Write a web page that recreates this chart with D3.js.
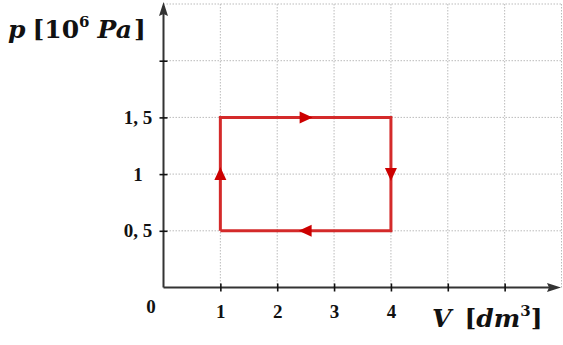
<!DOCTYPE html>
<html>
<head>
<meta charset="utf-8">
<script src="https://cdn.jsdelivr.net/npm/d3@7"></script>
<style>
  body { margin: 0; background: #fff; }
</style>
</head>
<body>
<div id="viz"></div>
<script>
const w = 563;
const h = 345;

// cycle corners (V in dm^3, p in 10^6 Pa), in drawing order
const cycleV = [1, 1, 4, 4, 1];
const cycleP = [0.5, 1.5, 1.5, 0.5, 0.5];

const xTicks = [1, 2, 3, 4, 5, 6];
const xTickLabels = ['1', '2', '3', '4', '', ''];
const yTicks = [0.5, 1, 1.5, 2];
const yTickLabels = ['0, 5', '1', '1, 5', ''];
const xGrid = [1, 2, 3, 4, 5, 6, 7];
const yGrid = [0.5, 1, 1.5, 2, 2.5];

const x = d3.scaleLinear().domain([0, 7]).range([163.5, 561.5]);
const y = d3.scaleLinear().domain([0, 2.5]).range([287.5, 4]);

const svg = d3.select('#viz').append('svg')
    .attr('width', w)
    .attr('height', h)

// grid
svg.append('g').selectAll('line').data(xGrid).join('line')
    .attr('x1', d => x(d)).attr('x2', d => x(d))
    .attr('y1', y(0)).attr('y2', y(2.5))
    .attr('stroke', '#bbb').attr('stroke-width', 1)
    .attr('stroke-dasharray', '1.5,1.5')

svg.append('g').selectAll('line').data(yGrid).join('line')
    .attr('x1', x(0)).attr('x2', x(7))
    .attr('y1', d => y(d)).attr('y2', d => y(d))
    .attr('stroke', '#bbb').attr('stroke-width', 1)
    .attr('stroke-dasharray', '1.5,1.5')

// axes
const axisColor = '#333';
svg.append('line')
    .attr('x1', x(0)).attr('x2', 556)
    .attr('y1', y(0)).attr('y2', y(0))
    .attr('stroke', axisColor).attr('stroke-width', 2)
svg.append('line')
    .attr('x1', x(0)).attr('x2', x(0))
    .attr('y1', y(0)).attr('y2', 10)
    .attr('stroke', axisColor).attr('stroke-width', 2)

svg.append('path')
    .attr('d', `M561,${y(0)} L547,${y(0) - 4.5} L549,${y(0)} L547,${y(0) + 4.5} Z`)
    .attr('fill', axisColor)
svg.append('path')
    .attr('d', `M${x(0)},2 L${x(0) - 4.5},16 L${x(0)},14 L${x(0) + 4.5},16 Z`)
    .attr('fill', axisColor)

// tick crosses
const tickFont = '"Liberation Serif", serif';
const xAxis = svg.append('g')
    .attr('transform', `translate(0,${y(0)})`)
    .call(d3.axisBottom(x).tickValues(xTicks).tickSizeOuter(0).tickFormat((d, i) => xTickLabels[i]).tickPadding(11))
const yAxis = svg.append('g')
    .attr('transform', `translate(${x(0)},0)`)
    .call(d3.axisLeft(y).tickValues(yTicks).tickSizeOuter(0).tickFormat((d, i) => yTickLabels[i]))

for (const g of [xAxis, yAxis]) {
    g.select('.domain').remove();
    g.selectAll('.tick line').attr('stroke', '#111').attr('stroke-width', 1.6)
    g.attr('font-family', tickFont).attr('font-size', 19)
    g.selectAll('text')
        .attr('font-weight', 'bold')
        .attr('fill', '#111')
}
xAxis.selectAll('.tick line').attr('y1', -4).attr('y2', 4)
yAxis.selectAll('.tick line').attr('x1', -4).attr('x2', 4)
yAxis.selectAll('.tick text').attr('x', -25.5).attr('text-anchor', 'middle')

svg.append('text')
    .attr('x', 151).attr('y', 313)
    .attr('text-anchor', 'middle')
    .attr('font-family', tickFont).attr('font-weight', 'bold')
    .attr('font-size', 19).attr('fill', '#111')
    .text('0')

// axis titles
const titleFont = '"DejaVu Serif", serif';
const pLabel = svg.append('text')
    .attr('x', 8).attr('y', 38)
    .attr('font-family', titleFont).attr('font-weight', 'bold')
    .attr('font-size', 25).attr('fill', '#111')
pLabel.append('tspan').attr('font-style', 'italic').text('p')
pLabel.append('tspan').attr('dx', 7).text('[10')
pLabel.append('tspan').attr('font-size', 15).attr('dy', -11).text('6')
pLabel.append('tspan').attr('dx', 8).attr('dy', 11).attr('font-style', 'italic').text('Pa')
pLabel.append('tspan').attr('dx', 2).text(']')

const vLabel = svg.append('text')
    .attr('x', 432).attr('y', 327)
    .attr('font-family', titleFont).attr('font-weight', 'bold')
    .attr('font-size', 25).attr('fill', '#111')
vLabel.append('tspan').attr('font-style', 'italic').text('V')
vLabel.append('tspan').attr('dx', 13).text('[')
vLabel.append('tspan').attr('font-style', 'italic').text('dm')
vLabel.append('tspan').attr('font-size', 15).attr('dy', -11).text('3')
vLabel.append('tspan').attr('dy', 11).text(']')

// cycle
const red = '#d42a2a';
const pts = cycleV.map((v, i) => [v, cycleP[i]]);
svg.append('path')
    .attr('d', d3.line().x(d => x(d[0])).y(d => y(d[1]))(pts))
    .attr('fill', 'none')
    .attr('stroke', red)
    .attr('stroke-width', 3)
    .attr('stroke-linejoin', 'miter')

// direction arrows at segment midpoints
const mids = d3.pairs(pts).map(([a, b]) => ({
    mx: x((a[0] + b[0]) / 2),
    my: y((a[1] + b[1]) / 2),
    ang: Math.atan2(y(b[1]) - y(a[1]), x(b[0]) - x(a[0])) * 180 / Math.PI
}));
svg.append('g').selectAll('path').data(mids).join('path')
    .attr('d', 'M7,0 L-6,-6 L-6,6 Z')
    .attr('transform', d => `translate(${d.mx},${d.my}) rotate(${d.ang})`)
    .attr('fill', '#cc0000')
</script>
</body>
</html>
